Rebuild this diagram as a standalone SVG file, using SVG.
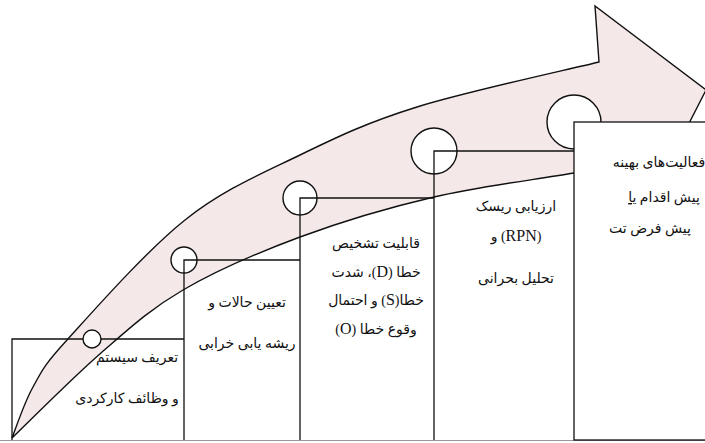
<svg xmlns="http://www.w3.org/2000/svg" width="705" height="443" viewBox="0 0 705 443">
<style>
.ln{fill:none;stroke:#111;stroke-width:1.3}
.cir{fill:#fff;stroke:#111;stroke-width:1.4}
.t{font-family:'Liberation Serif','DejaVu Sans',sans-serif;font-size:14px;fill:#111;text-anchor:middle}
.lat{font-size:16px}
</style>
<rect width="705" height="443" fill="#fff"/>
<path id="arrow" d="M12,438 C15.5,429.5 23.8,403.3 33,387 C42.2,370.7 41.7,367.8 67,340 C92.3,312.2 146.2,250.8 185,220 C223.8,189.2 261.3,173.8 300,155 C338.7,136.2 367.2,122.5 417,107 C466.8,91.5 568.7,69.5 599,62 L595,6 L706,90 L660,180 L574,173 C533,180 479.7,186.3 434,197 C388.3,207.7 341.8,221.5 300,237 C258.2,252.5 216.2,270.7 183,290 C149.8,309.3 129.5,328.3 101,353 C72.5,377.7 26.8,423.8 12,438 Z" fill="#f4e8e8" stroke="#111" stroke-width="1.4" stroke-linejoin="miter"/>
<g id="step2">
<circle class="cir" cx="184" cy="260" r="13"/>
<text class="t" direction="rtl" x="247" y="307">تعیین حالات و</text>
<text class="t" direction="rtl" x="247" y="348">ریشه یابی خرابی</text>
</g>
<g id="step3">
<circle class="cir" cx="300" cy="198" r="17"/>
<text class="t" direction="rtl" x="376" y="248">قابلیت تشخیص</text>
<text class="t" direction="rtl" x="376" y="277">خطا (<tspan class="lat">D</tspan>)، شدت</text>
<text class="t" direction="rtl" x="376" y="305">خطا(<tspan class="lat">S</tspan>) و احتمال</text>
<text class="t" direction="rtl" x="376" y="334">وقوع خطا (<tspan class="lat">O</tspan>)</text>
</g>
<g id="step4">
<circle class="cir" cx="434" cy="151" r="23"/>
<text class="t" direction="rtl" x="516" y="211">ارزیابی ریسک</text>
<text class="t" direction="rtl" x="516" y="241">(<tspan class="lat">RPN</tspan>) و</text>
<text class="t" direction="rtl" x="516" y="283">تحلیل بحرانی</text>
</g>
<g id="connectors">
<path class="ln" d="M12,440 V339 H184"/>
<path class="ln" d="M184,440 V260 H300"/>
<path class="ln" d="M300,440 V198 H434"/>
<path class="ln" d="M434,440 V151 H574"/>
<line x1="0" y1="440.5" x2="705" y2="440.5" stroke="#999" stroke-width="1"/>
</g>
<g id="step1">
<circle class="cir" cx="92" cy="339" r="9"/>
<text class="t" direction="rtl" x="137" y="362">تعریف سیستم</text>
<text class="t" direction="rtl" x="127" y="403">و وظائف کارکردی</text>
</g>
<g id="step5">
<circle class="cir" cx="574" cy="122" r="27"/>
<rect x="574" y="122" width="140" height="318" fill="#fff" stroke="#111" stroke-width="1.3"/>
<text class="t" direction="rtl" x="659" y="167">فعالیت‌های بهینه</text>
<text class="t" direction="rtl" x="664" y="202">پیش اقدام <tspan text-decoration="underline">یا</tspan></text>
<text class="t" direction="rtl" x="650" y="233">پیش فرض تت</text>
</g>
</svg>
